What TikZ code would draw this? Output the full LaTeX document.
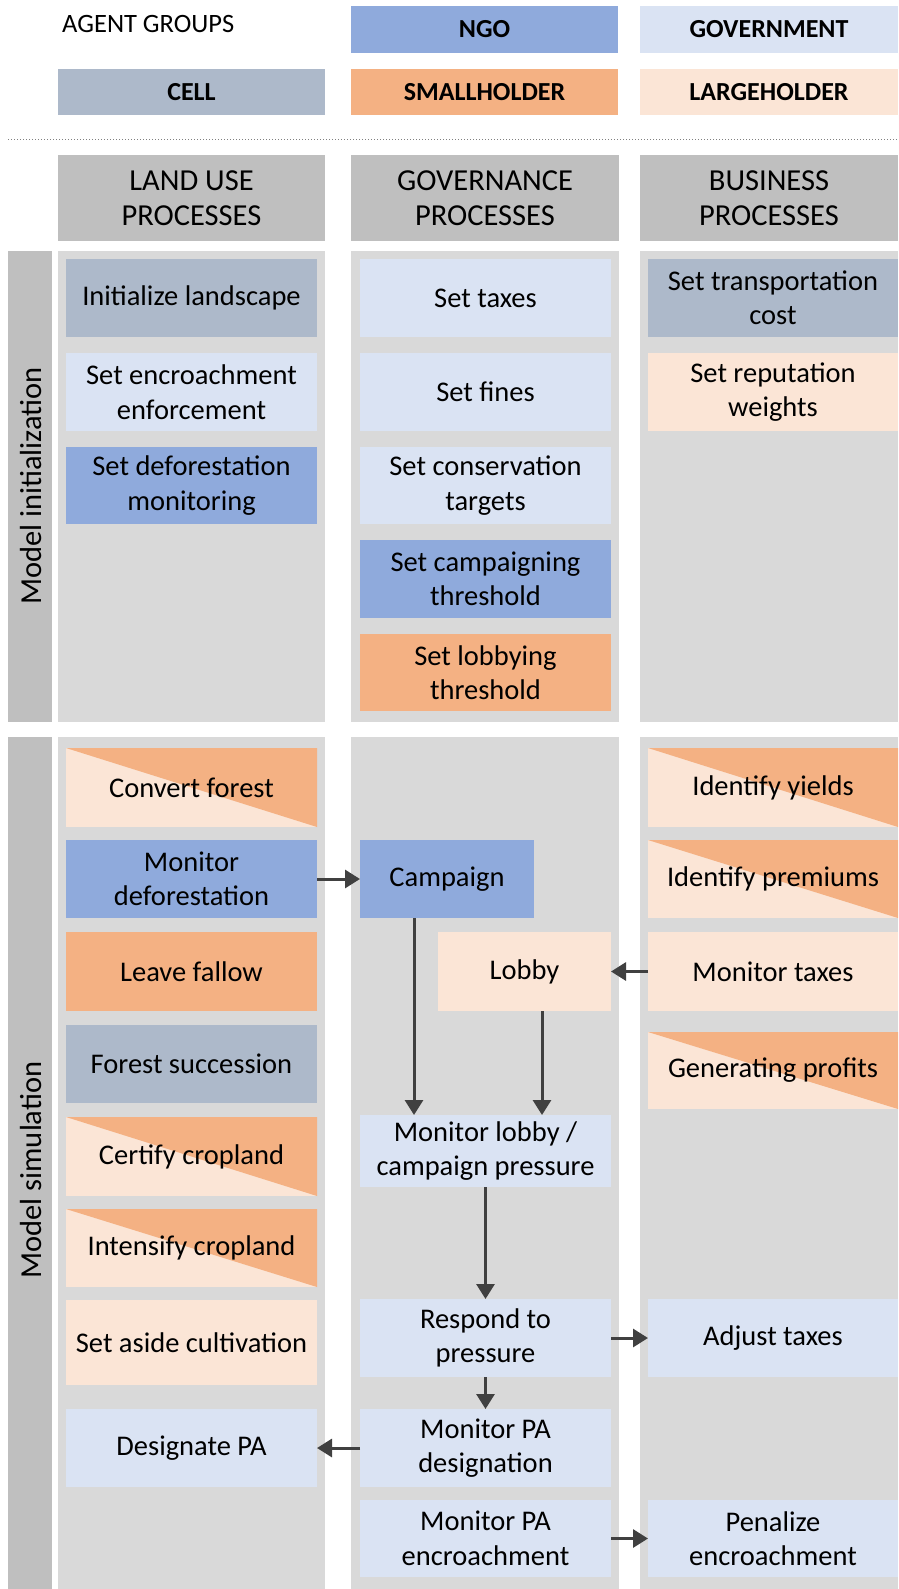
\documentclass[tikz,border=0pt]{standalone}
\usepackage{fontspec}
\setmainfont{Carlito}
\usetikzlibrary{arrows.meta}
\definecolor{ngo}{HTML}{8FAADC}
\definecolor{gov}{HTML}{DAE3F3}
\definecolor{cell}{HTML}{ADB9CA}
\definecolor{sh}{HTML}{F4B183}
\definecolor{lh}{HTML}{FBE5D6}
\definecolor{hdr}{HTML}{BFBFBF}
\definecolor{colbg}{HTML}{D9D9D9}
\definecolor{arrc}{HTML}{404040}
\newcommand\fsbody{\fontsize{28.5}{34.5}\selectfont}
\newcommand\fshead{\fontsize{30.5}{35}\selectfont}
\newcommand\fslegend{\fontsize{26}{30}\selectfont\bfseries}
\newcommand\procbox[7]{\node[pbox,#6,minimum width={#4-#2},minimum height={#5-#3}] (#1) at ({(#2+#4)/2},{(#3+#5)/2}) {#7};}
\begin{document}
\begin{tikzpicture}[x=1pt,y=-1pt,
  pbox/.style={rectangle,inner sep=0pt,outer sep=0pt,align=center,font=\fsbody},
  legend/.style={font=\fslegend},
  header/.style={fill=hdr,font=\fshead},
  split/.style={fill=lh,path picture={\fill[sh] (path picture bounding box.north west) -- (path picture bounding box.north east) -- (path picture bounding box.south east) -- cycle;}},
  arr/.style={draw=arrc,line width=3pt,-{Triangle[length=15pt,width=18pt]}}]
\useasboundingbox (0,0) rectangle (898,1589);
% legend
\node[anchor=west,font=\fontsize{26.5}{30}\selectfont,inner sep=0pt] (agt) at (62,24) {AGENT GROUPS};
\procbox{lngo}{351}{6}{618}{53}{fill=ngo,legend}{NGO}
\procbox{lgov}{640}{6}{898}{53}{fill=gov,legend}{GOVERNMENT}
\procbox{lcell}{58}{69}{325}{115}{fill=cell,legend}{CELL}
\procbox{lsh}{351}{69}{618}{115}{fill=sh,legend}{SMALLHOLDER}
\procbox{llh}{640}{69}{898}{115}{fill=lh,legend}{LARGEHOLDER}
\coordinate (dl) at (8,140);
\coordinate (dr) at (898,140);
\draw[gray,dotted,line width=1pt] (dl) -- (dr);
% headers
\procbox{hland}{58}{155}{325}{241}{header}{LAND USE\\PROCESSES}
\procbox{hgov}{351}{155}{619}{241}{header}{GOVERNANCE\\PROCESSES}
\procbox{hbus}{640}{155}{898}{241}{header}{BUSINESS\\PROCESSES}
% section backgrounds
\procbox{barinit}{8}{251}{52}{722}{fill=hdr}{}
\procbox{bginitL}{58}{251}{325}{722}{fill=colbg}{}
\procbox{bginitM}{351}{251}{619}{722}{fill=colbg}{}
\procbox{bginitR}{640}{251}{898}{722}{fill=colbg}{}
\procbox{barsim}{8}{737}{52}{1589}{fill=hdr}{}
\procbox{bgsimL}{58}{737}{325}{1589}{fill=colbg}{}
\procbox{bgsimM}{351}{737}{619}{1589}{fill=colbg}{}
\procbox{bgsimR}{640}{737}{898}{1589}{fill=colbg}{}
\node[rotate=90,font=\fshead] (tinit) at (31,486) {Model initialization};
\node[rotate=90,font=\fshead] (tsim) at (31,1170) {Model simulation};
% initialization boxes
\procbox{i1}{66}{259}{317}{337}{fill=cell}{Initialize landscape}
\procbox{i2}{66}{353}{317}{431}{fill=gov}{Set encroachment\\enforcement}
\procbox{i3}{66}{447}{317}{524}{fill=ngo}{Set deforestation\\monitoring}
\procbox{i4}{360}{259}{611}{337}{fill=gov}{Set taxes}
\procbox{i5}{360}{353}{611}{431}{fill=gov}{Set fines}
\procbox{i6}{360}{447}{611}{524}{fill=gov}{Set conservation\\targets}
\procbox{i7}{360}{540}{611}{618}{fill=ngo}{Set campaigning\\threshold}
\procbox{i8}{360}{634}{611}{711}{fill=sh}{Set lobbying\\threshold}
\procbox{i9}{648}{259}{898}{337}{fill=cell}{Set transportation\\cost}
\procbox{i10}{648}{353}{898}{431}{fill=lh}{Set reputation\\weights}
% simulation: land use
\procbox{conv}{66}{748}{317}{827}{split}{Convert forest}
\procbox{mdef}{66}{840}{317}{918}{fill=ngo}{Monitor\\deforestation}
\procbox{fallow}{66}{932}{317}{1011}{fill=sh}{Leave fallow}
\procbox{succ}{66}{1025}{317}{1103}{fill=cell}{Forest succession}
\procbox{cert}{66}{1117}{317}{1196}{split}{Certify cropland}
\procbox{intens}{66}{1209}{317}{1287}{split}{Intensify cropland}
\procbox{aside}{66}{1300}{317}{1385}{fill=lh}{Set aside cultivation}
\procbox{despa}{66}{1409}{317}{1487}{fill=gov}{Designate PA}
% simulation: governance
\procbox{camp}{360}{840}{534}{918}{fill=ngo}{Campaign}
\procbox{lobby}{438}{932}{611}{1011}{fill=lh}{Lobby}
\procbox{mlp}{360}{1115}{611}{1187}{fill=gov}{Monitor lobby /\\campaign pressure}
\procbox{resp}{360}{1299}{611}{1377}{fill=gov}{Respond to\\pressure}
\procbox{mpad}{360}{1409}{611}{1487}{fill=gov}{Monitor PA\\designation}
\procbox{mpae}{360}{1500}{611}{1577}{fill=gov}{Monitor PA\\encroachment}
% simulation: business
\procbox{yields}{648}{748}{898}{827}{split}{Identify yields}
\procbox{prem}{648}{840}{898}{918}{split}{Identify premiums}
\procbox{mtax}{648}{932}{898}{1011}{fill=lh}{Monitor taxes}
\procbox{prof}{648}{1032}{898}{1109}{split}{Generating profits}
\procbox{adj}{648}{1299}{898}{1377}{fill=gov}{Adjust taxes}
\procbox{pen}{648}{1500}{898}{1577}{fill=gov}{Penalize\\encroachment}
% arrows
\draw[arr] (mdef.east) -- (camp.west);
\draw[arr] (mtax.west) -- (lobby.east);
\draw[arr] ([xshift=54pt]camp.south west) -- ([xshift=54pt]camp.south west |- mlp.north);
\draw[arr] ([xshift=104pt]lobby.south west) -- ([xshift=104pt]lobby.south west |- mlp.north);
\draw[arr] (mlp.south) -- (resp.north);
\draw[arr] (resp.east) -- (resp.east -| adj.west);
\draw[arr] (resp.south) -- (mpad.north);
\draw[arr] (mpad.west) -- (mpad.west -| despa.east);
\draw[arr] (mpae.east) -- (mpae.east -| pen.west);
\end{tikzpicture}
\end{document}
